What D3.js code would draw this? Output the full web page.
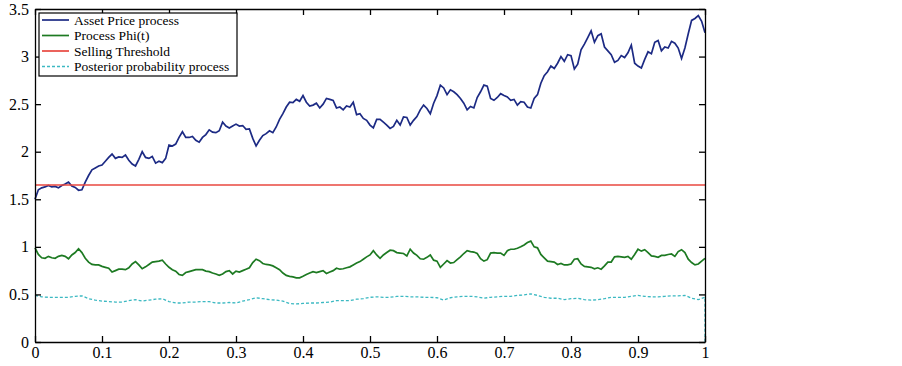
<!DOCTYPE html>
<meta charset="utf-8">
<script src="https://d3js.org/d3.v7.min.js"></script>
<style>
  body { margin: 0; background: #fff; }
  svg text { font-family: "Liberation Serif", "DejaVu Serif", serif; }
</style>
<div id="chart"></div>
<script>
// values, t from 0 to 1
// asset price and phi sampled every 0.005, posterior every 0.01
var assetPrice = [
  1.50,1.60,1.62,1.63,1.645,1.63,1.635,1.62,1.645,1.66,
  1.68,1.64,1.625,1.595,1.60,1.68,1.75,1.81,1.83,1.85,
  1.86,1.90,1.94,1.975,1.93,1.945,1.94,1.965,1.91,1.87,
  1.85,1.92,2.00,1.94,1.93,1.95,1.88,1.90,1.885,1.93,
  2.07,2.06,2.08,2.15,2.21,2.15,2.15,2.16,2.12,2.10,
  2.15,2.18,2.23,2.205,2.20,2.22,2.31,2.27,2.25,2.27,
  2.29,2.27,2.275,2.235,2.24,2.14,2.06,2.12,2.17,2.19,
  2.22,2.20,2.26,2.34,2.40,2.47,2.52,2.515,2.55,2.53,
  2.59,2.52,2.48,2.49,2.51,2.46,2.50,2.56,2.55,2.54,
  2.46,2.47,2.44,2.48,2.47,2.52,2.39,2.40,2.35,2.33,
  2.28,2.25,2.34,2.34,2.31,2.28,2.245,2.265,2.33,2.28,
  2.365,2.36,2.28,2.33,2.37,2.44,2.49,2.455,2.40,2.51,
  2.59,2.70,2.67,2.60,2.65,2.63,2.60,2.56,2.51,2.44,
  2.475,2.46,2.57,2.63,2.70,2.69,2.56,2.54,2.57,2.61,
  2.59,2.575,2.54,2.55,2.49,2.525,2.52,2.47,2.46,2.56,
  2.60,2.72,2.80,2.84,2.90,2.875,2.93,3.00,2.95,3.02,
  3.01,2.87,2.92,3.07,3.13,3.20,3.27,3.15,3.22,3.24,
  3.10,3.06,3.02,2.94,2.96,3.01,2.99,3.04,3.12,2.93,
  2.90,2.88,2.97,3.05,3.03,3.15,3.17,3.06,3.10,3.09,
  3.16,3.14,3.09,2.98,3.09,3.24,3.38,3.40,3.43,3.37,
  3.25
];

var phi = [
  0.99,0.92,0.885,0.88,0.90,0.885,0.88,0.90,0.91,0.90,
  0.875,0.915,0.94,0.98,0.94,0.88,0.84,0.815,0.81,0.81,
  0.795,0.785,0.775,0.735,0.75,0.765,0.765,0.76,0.78,0.82,
  0.845,0.81,0.77,0.79,0.815,0.84,0.845,0.85,0.86,0.82,
  0.785,0.76,0.745,0.71,0.70,0.73,0.74,0.75,0.76,0.76,
  0.76,0.745,0.74,0.725,0.715,0.70,0.715,0.74,0.75,0.715,
  0.745,0.735,0.75,0.765,0.78,0.835,0.87,0.855,0.825,0.815,
  0.81,0.80,0.78,0.76,0.725,0.70,0.69,0.685,0.675,0.675,
  0.69,0.71,0.725,0.74,0.73,0.74,0.75,0.72,0.735,0.75,
  0.775,0.765,0.77,0.78,0.79,0.81,0.83,0.845,0.87,0.895,
  0.915,0.96,0.915,0.88,0.915,0.94,0.965,0.96,0.94,0.935,
  0.93,0.905,0.975,0.935,0.91,0.875,0.87,0.89,0.915,0.86,
  0.85,0.785,0.82,0.855,0.83,0.835,0.865,0.895,0.93,0.96,
  0.95,0.945,0.93,0.875,0.85,0.865,0.935,0.94,0.935,0.935,
  0.91,0.96,0.975,0.975,0.985,1.00,1.02,1.045,1.06,1.00,
  0.99,0.92,0.885,0.85,0.845,0.84,0.815,0.825,0.81,0.81,
  0.82,0.87,0.875,0.82,0.795,0.79,0.785,0.77,0.78,0.765,
  0.80,0.84,0.84,0.895,0.90,0.895,0.89,0.90,0.87,0.92,
  0.975,0.955,0.97,0.94,0.905,0.90,0.89,0.91,0.91,0.92,
  0.925,0.90,0.95,0.97,0.94,0.87,0.835,0.81,0.82,0.85,
  0.88
];

var posterior = [
  0.49,0.475,0.47,0.47,0.47,0.47,0.48,0.485,0.455,0.44,
  0.43,0.425,0.42,0.42,0.435,0.445,0.43,0.44,0.45,0.455,
  0.425,0.41,0.41,0.42,0.42,0.425,0.425,0.41,0.41,0.415,
  0.41,0.43,0.445,0.465,0.455,0.445,0.44,0.43,0.405,0.40,
  0.405,0.41,0.41,0.415,0.42,0.435,0.435,0.435,0.45,0.455,
  0.47,0.475,0.47,0.47,0.48,0.48,0.475,0.475,0.47,0.47,
  0.465,0.44,0.465,0.475,0.48,0.48,0.475,0.46,0.47,0.475,
  0.48,0.48,0.49,0.495,0.505,0.49,0.47,0.46,0.46,0.445,
  0.455,0.46,0.445,0.44,0.445,0.455,0.47,0.47,0.47,0.48,
  0.49,0.48,0.475,0.475,0.48,0.485,0.485,0.49,0.46,0.445,
  0.47
];
var posteriorEnd = 0;   // the process drops to 0 at t = 1

var threshold = 1.65;

var xTicks = [0, 0.1, 0.2, 0.3, 0.4, 0.5, 0.6, 0.7, 0.8, 0.9, 1];
var yTicks = [0, 0.5, 1, 1.5, 2, 2.5, 3, 3.5];

var legendNames = ["Asset Price process", "Process Phi(t)", "Selling Threshold", "Posterior probability process"];
var colors = ["#1c2a84", "#1d7a22", "#e8473f", "#3cb9c2"];

var width = 902, height = 366;
var margin = {top: 9, right: 197, bottom: 24, left: 35};
var serif = "'Liberation Serif', 'DejaVu Serif', serif";

var svg = d3.select("#chart")
  .append("svg")
    .attr("width", width)
    .attr("height", height);

var x = d3.scaleLinear().domain([0, 1]).range([margin.left, width - margin.right]);
var y = d3.scaleLinear().domain([0, 3.5]).range([height - margin.bottom, margin.top]);

// turn a value array into points on an even time grid
function toPoints(vals) {
  var n = vals.length - 1;
  return vals.map(function(v, i) { return [i / n, v]; });
}

var line = d3.line()
  .x(function(d) { return x(d[0]); })
  .y(function(d) { return y(d[1]); });

var plot = svg.append("g");

plot.append("path")
  .datum(toPoints(assetPrice))
  .attr("fill", "none")
  .attr("stroke", colors[0])
  .attr("stroke-width", 1.7)
  .attr("d", line);

plot.append("path")
  .datum(toPoints(phi))
  .attr("fill", "none")
  .attr("stroke", colors[1])
  .attr("stroke-width", 1.7)
  .attr("d", line);

plot.append("path")
  .datum([[0, threshold], [1, threshold]])
  .attr("fill", "none")
  .attr("stroke", colors[2])
  .attr("stroke-width", 1.6)
  .attr("d", line);

var postPts = toPoints(posterior);
postPts.push([1, posteriorEnd]);
plot.append("path")
  .datum(postPts)
  .attr("fill", "none")
  .attr("stroke", colors[3])
  .attr("stroke-width", 1.3)
  .attr("stroke-dasharray", "3,2")
  .attr("d", line);

// axes, ticks drawn inward on all four sides
var tickLen = 6;
var fmt = function(d) { return String(d); };
svg.append("g")
  .attr("transform", "translate(0," + y(0) + ")")
  .call(d3.axisBottom(x).tickValues(xTicks).tickFormat(fmt).tickSizeInner(-tickLen).tickSizeOuter(0).tickPadding(5));
svg.append("g")
  .attr("transform", "translate(0," + y(3.5) + ")")
  .call(d3.axisTop(x).tickValues(xTicks).tickSizeInner(-tickLen).tickSizeOuter(0).tickFormat(""));
svg.append("g")
  .attr("transform", "translate(" + x(0) + ",0)")
  .call(d3.axisLeft(y).tickValues(yTicks).tickFormat(fmt).tickSizeInner(-tickLen).tickSizeOuter(0).tickPadding(6));
svg.append("g")
  .attr("transform", "translate(" + x(1) + ",0)")
  .call(d3.axisRight(y).tickValues(yTicks).tickSizeInner(-tickLen).tickSizeOuter(0).tickFormat(""));

svg.selectAll("g").attr("font-family", serif);
svg.selectAll(".domain").attr("stroke", "#000").attr("stroke-width", 1.3);
svg.selectAll(".tick line").attr("stroke", "#000").attr("stroke-width", 1.3);
svg.selectAll(".tick text")
  .attr("fill", "#000")
  .attr("font-size", 16)
  .style("font-family", serif);

// legend
var legend = svg.append("g").attr("transform", "translate(39,13)");
legend.append("rect")
  .attr("width", 198)
  .attr("height", 63)
  .attr("fill", "#fff")
  .attr("stroke", "#000")
  .attr("stroke-width", 1.2);

legendNames.forEach(function(name, i) {
  var ly = 7 + i * 15.5;
  legend.append("line")
    .attr("x1", 3).attr("x2", 30)
    .attr("y1", ly).attr("y2", ly)
    .attr("stroke", colors[i])
    .attr("stroke-width", i == 3 ? 1.3 : 1.7)
    .attr("stroke-dasharray", i == 3 ? "3,2" : null);
  legend.append("text")
    .attr("x", 35)
    .attr("y", ly)
    .attr("dy", "0.35em")
    .attr("font-family", serif)
    .style("font-family", serif)
    .style("font-size", "13.5px")
    .text(name);
});
</script>
